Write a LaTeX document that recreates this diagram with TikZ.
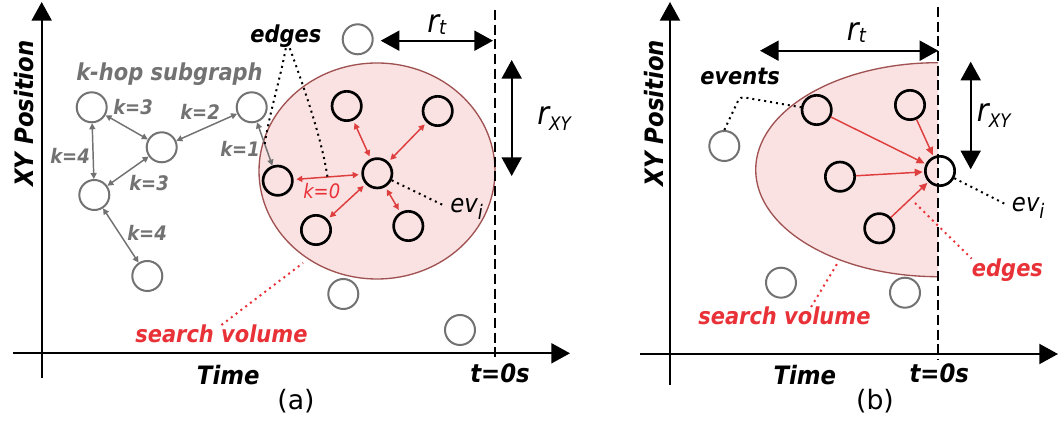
\documentclass[tikz,border=0pt]{standalone}
\usepackage{fontspec}
\newfontfamily\dvfont{DejaVu Sans Condensed}
\newfontfamily\dvplain{DejaVu Sans}
\usetikzlibrary{arrows.meta}
\definecolor{hopgray}{RGB}{114,114,114}
\definecolor{volred}{RGB}{232,50,56}
\definecolor{edgered}{RGB}{222,62,62}
\definecolor{volfill}{RGB}{251,226,226}
\definecolor{voledge}{RGB}{160,82,82}

\begin{document}
\begin{tikzpicture}[x=0.75pt, y=-0.75pt,
  axis/.style={line width=1.5pt, -{Triangle[length=14pt,width=15pt]}},
  span/.style={line width=1.5pt, {Triangle[length=14pt,width=15pt]}-{Triangle[length=14pt,width=15pt]}},
  nowline/.style={line width=1.5pt, dash pattern=on 7.5pt off 3.5pt},
  evnode/.style={circle, draw, line width=2pt, minimum size=22pt, inner sep=0pt},
  oldnode/.style={circle, draw=hopgray, line width=1.5pt, minimum size=22.5pt, inner sep=0pt},
  hop/.style={hopgray, line width=1.1pt, {Triangle[length=4.5pt,width=4.5pt]}-{Triangle[length=4.5pt,width=4.5pt]}},
  nbr/.style={edgered, line width=1.1pt, {Triangle[length=4.5pt,width=4.5pt]}-{Triangle[length=4.5pt,width=4.5pt]}, shorten >=2pt, shorten <=2pt},
  into/.style={edgered, line width=1.1pt, -{Triangle[length=6pt,width=5.5pt]}, shorten >=1pt},
  dotline/.style={line width=1.5pt, dash pattern=on 1.5pt off 3pt},
  reddot/.style={dotline, volred},
  bigtxt/.style={font=\dvfont\bfseries\itshape\fontsize{19}{22}\selectfont, inner sep=0pt},
  midtxt/.style={font=\dvfont\bfseries\itshape\fontsize{17.5}{20}\selectfont, inner sep=0pt},
  ktxt/.style={font=\dvfont\bfseries\itshape\fontsize{15}{18}\selectfont, text=hopgray, inner sep=0pt},
  rtxt/.style={font=\dvfont\itshape\fontsize{24}{26}\selectfont, inner sep=0pt},
  evtxt/.style={font=\dvfont\itshape\fontsize{19}{22}\selectfont, inner sep=0pt},
  captxt/.style={font=\dvplain\fontsize{20}{22}\selectfont, inner sep=0pt}]
\useasboundingbox (0,0) rectangle (1058,423);

\filldraw[fill=volfill, draw=voledge, line width=1pt] (377,171) ellipse[x radius=118, y radius=108];
\fill[volfill] (938,62.7) arc[start angle=270, end angle=90, x radius=182.3, y radius=107] -- cycle;
\draw[voledge, line width=1pt] (938,62.7) arc[start angle=270, end angle=90, x radius=182.3, y radius=107];

\draw[axis] (41.7,378) -- (41.7,2);
\draw[axis] (13,353.3) -- (570,353.3);
\draw[nowline] (495,10) -- (495,360);
\draw[span] (380.7,40.7) -- (493,40.7);
\draw[span] (511.7,60) -- (511.7,176);
\draw[axis] (670,385) -- (670,2);
\draw[axis] (640,354) -- (1058,354);
\draw[nowline] (938.3,7) -- (938.3,360);
\draw[span] (760,50.7) -- (938.3,50.7);
\draw[span] (970.7,61.7) -- (970.7,169.3);

\node[oldnode] (g1) at (91.7,107.3) {};
\node[oldnode] (g2) at (161.7,147.3) {};
\node[oldnode] (g3) at (94.3,195) {};
\node[oldnode] (g4) at (147.3,276) {};
\node[oldnode] (g5) at (251.7,107.3) {};
\node[oldnode] (gtop) at (357.7,39.3) {};
\node[oldnode] (gbot) at (343.3,294) {};
\node[oldnode] (gfar) at (460,330) {};
\node[evnode] (nl) at (277.7,180.7) {};
\node[evnode] (ntl) at (346.7,106) {};
\node[evnode] (ntr) at (437.7,111) {};
\node[evnode] (nbl) at (316,230) {};
\node[evnode] (nbr) at (408.3,226) {};
\node[evnode] (eva) at (377.3,173.3) {};

\node[oldnode] (hl) at (724.3,146) {};
\node[oldnode] (hbl) at (781,282.7) {};
\node[oldnode] (hbr) at (905,292.7) {};
\node[evnode] (m1) at (816.7,110) {};
\node[evnode] (m2) at (910,105) {};
\node[evnode] (m3) at (840,176.7) {};
\node[evnode] (m4) at (879.3,228.3) {};
\node[evnode] (evb) at (940,171) {};

\draw[hop] (g1) -- (g3);
\draw[hop] (g1) -- (g2);
\draw[hop] (g2) -- (g3);
\draw[hop] (g3) -- (g4);
\draw[hop] (g2) -- (g5);
\draw[hop] (g5) -- coordinate[pos=0.5] (k1pt) (nl);
\draw[nbr] (nl) -- coordinate[pos=0.5] (k0pt) (eva);
\draw[nbr] (eva) -- (ntl);
\draw[nbr] (eva) -- (ntr);
\draw[nbr] (eva) -- (nbl);
\draw[nbr] (eva) -- (nbr);

\draw[into] (m1) -- (evb);
\draw[into] (m2) -- (evb);
\draw[into] (m3) -- (evb);
\draw[into] (m4) -- (evb);

\node[bigtxt, rotate=90, anchor=base] at (33,113.5) {XY Position};
\node[bigtxt, anchor=base west] at (196.7,385) {Time};
\node[bigtxt, anchor=base west] at (470,383) {t=0s};
\node[captxt, anchor=base] at (296,410) {(a)};
\node[midtxt, text=hopgray, anchor=base west] at (76,81) {k-hop subgraph};
\node[ktxt, anchor=base west] at (113,115) {k=3};
\node[ktxt, anchor=base west] at (180,120) {k=2};
\node[ktxt, anchor=base west] at (50,164) {k=4};
\node[ktxt, anchor=base west] at (129,190.7) {k=3};
\node[ktxt, anchor=base west] at (127,240.7) {k=4};
\node[ktxt, anchor=base west] at (220,157) {k=1};
\node[ktxt, text=volred, font=\dvfont\itshape\fontsize{15}{18}\selectfont, anchor=base west] at (303,199) {k=0};
\node[midtxt, anchor=base west] (edga) at (250,43) {edges};
\node[midtxt, text=volred, anchor=base west] (sva) at (135,343) {search volume};
\node[rtxt, anchor=base west] at (427,33) {r\raisebox{-1.5pt}{\fontsize{15}{15}\selectfont t}};
\node[rtxt, anchor=base west] at (537,125) {r\raisebox{-4.3pt}{\fontsize{14}{14}\selectfont XY}};
\node[evtxt, anchor=base west] (evla) at (450,213) {ev\raisebox{-5pt}{\fontsize{15}{15}\selectfont i}};

\draw[dotline] (edga.south) .. controls (280,80) and (269,115) .. (k1pt);
\draw[dotline] ([xshift=3pt]edga.south) .. controls (305,90) and (322,140) .. (k0pt);
\draw[dotline] (eva) -- ([xshift=-5pt,yshift=3pt]evla.west);
\coordinate (svatip) at (303,263);
\draw[reddot] (sva.north) -- (svatip);

\node[bigtxt, rotate=90, anchor=base] at (663.3,113) {XY Position};
\node[bigtxt, anchor=base west] at (773.3,385) {Time};
\node[bigtxt, anchor=base west] at (909.3,383) {t=0s};
\node[captxt, anchor=base] at (875,410) {(b)};
\node[midtxt, anchor=base west] (evts) at (700,85) {events};
\node[midtxt, text=volred, anchor=base west] (svb) at (698,325) {search volume};
\node[midtxt, text=volred, anchor=base west] (edgb) at (971.7,276.7) {edges};
\node[rtxt, anchor=base west] at (846.7,41) {r\raisebox{-1.5pt}{\fontsize{15}{15}\selectfont t}};
\node[rtxt, anchor=base west] at (976.7,121.7) {r\raisebox{-4.3pt}{\fontsize{14}{14}\selectfont XY}};
\node[evtxt, anchor=base west] (evlb) at (1011.7,211.7) {ev\raisebox{-5pt}{\fontsize{15}{15}\selectfont i}};

\coordinate (evtbend) at (740,96.7);
\draw[dotline, rounded corners=3pt] (hl.north) -- (evtbend) -- (m1);
\draw[dotline] (evb) -- ([xshift=-5pt,yshift=3pt]evlb.west);
\coordinate (svbtip) at (837,264);
\draw[reddot] ([xshift=20pt]svb.north) -- (svbtip);
\coordinate (edgbtip) at (915,203);
\draw[reddot] (edgbtip) -- (edgb.north west);
\end{tikzpicture}
\end{document}
